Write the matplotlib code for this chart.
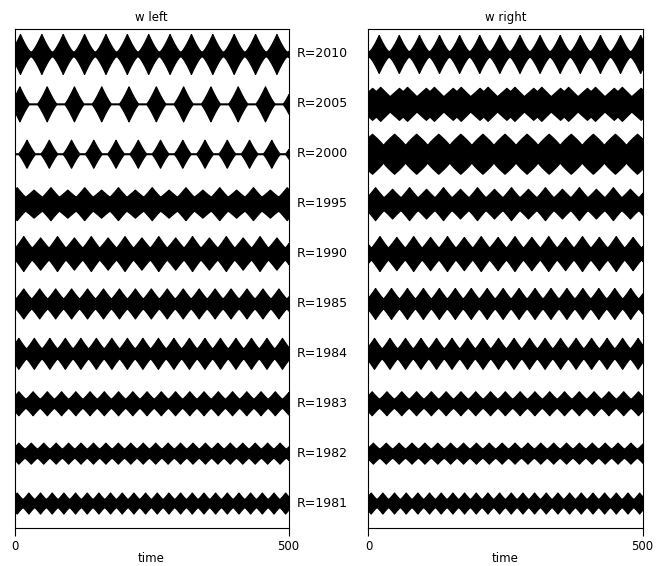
import numpy as np
import matplotlib.pyplot as plt

# runs, top to bottom
years = [2010, 2005, 2000, 1995, 1990, 1985, 1984, 1983, 1982, 1981]

# beat period and time of first beat maximum (time units)
left_period = [39.0, 49.8, 40.6, 30.8, 30.8, 29.1, 28.3, 26.0, 22.7, 21.3]
left_first = [10.0, 8.9, 22.0, 4.0, 16.0, 16.0, 7.0, 7.0, 7.0, 4.0]
# envelope half height at beat maximum and at the waist (row spacing = 1)
left_peak = [0.40, 0.35, 0.28, 0.33, 0.35, 0.30, 0.31, 0.24, 0.21, 0.21]
left_waist = [0.05, 0.008, 0.008, 0.14, 0.12, 0.10, 0.10, 0.09, 0.09, 0.08]
# height of every second beat relative to the first
left_alt = [1.0, 1.0, 1.0, 0.85, 0.92, 1.0, 1.0, 1.0, 1.0, 1.0]
# base width of a beat (fraction of the period) and flank curvature
left_width = [0.95, 0.7, 0.75, 1.0, 1.0, 1.0, 1.0, 1.0, 1.0, 1.0]
left_sharp = [1.3, 1.2, 1.2, 1.1, 1.1, 1.15, 1.15, 1.15, 1.15, 1.15]
left_double = [0.0] * 10

right_period = [36.7, 49.0, 40.3, 31.0, 30.8, 29.1, 28.3, 27.0, 23.5, 21.3]
right_first = [18.6, 14.0, 6.4, 12.0, 20.0, 12.0, 10.0, 5.8, 8.0, 4.0]
right_peak = [0.38, 0.34, 0.40, 0.33, 0.35, 0.31, 0.31, 0.24, 0.21, 0.21]
right_waist = [0.06, 0.14, 0.17, 0.13, 0.12, 0.10, 0.10, 0.09, 0.09, 0.08]
right_alt = [1.0, 1.0, 1.0, 0.9, 0.95, 1.0, 1.0, 1.0, 1.0, 1.0]
right_width = [0.95, 0.75, 1.0, 1.0, 1.0, 1.0, 1.0, 1.0, 1.0, 1.0]
right_sharp = [1.3, 1.0, 0.85, 1.1, 1.1, 1.15, 1.15, 1.15, 1.15, 1.15]
right_double = [0.0, 0.9, 0.0, 0.0, 0.0, 0.0, 0.0, 0.0, 0.0, 0.0]

titles = ['w left', 'w right']
t = np.linspace(0, 500, 6001)


def lobe(frac, w, p):
    return np.clip(1 - 2 * np.abs(frac) / w, 0, 1) ** p


def envelope(period, first, peak, waist, alt, w, p, double):
    phase = (t - first) / period
    k = np.round(phase)
    frac = phase - k
    height = np.where(k % 2 == 1, peak * alt, peak)
    if double > 0:
        shape = np.maximum(lobe(frac - 0.15, w, p), double * lobe(frac + 0.15, w, p))
    else:
        shape = lobe(frac, w, p)
    return waist + (height - waist) * shape


plt.rcParams['font.family'] = 'DejaVu Sans'
fig = plt.figure(figsize=(6.62, 5.66), dpi=100)
ax_l = fig.add_axes([14.5 / 662, 38 / 566, 274 / 662, 499 / 566])
ax_r = fig.add_axes([368.5 / 662, 38 / 566, 274 / 662, 499 / 566])

panels = [
    (ax_l, left_period, left_first, left_peak, left_waist, left_alt,
     left_width, left_sharp, left_double),
    (ax_r, right_period, right_first, right_peak, right_waist, right_alt,
     right_width, right_sharp, right_double),
]

for i, (ax, per, first, peak, waist, alt, width, sharp, double) in enumerate(panels):
    for j in range(len(years)):
        y0 = len(years) - 1 - j
        env = envelope(per[j], first[j], peak[j], waist[j], alt[j],
                       width[j], sharp[j], double[j])
        ax.fill_between(t, y0 - env, y0 + env, color='black', lw=0.9)
        if i == 0:
            ax.text(515, y0, 'R=%d' % years[j], ha='left', va='center',
                    fontsize=9, clip_on=False)
    ax.set_xlim(0, 500)
    ax.set_ylim(-0.5, len(years) - 0.5)
    ax.set_xticks([0, 500])
    ax.set_yticks([])
    ax.tick_params(axis='x', direction='out', length=6, width=0.8, pad=3, labelsize=8.5)
    ax.set_xlabel('time', fontsize=8.5, labelpad=-1)
    ax.set_title(titles[i], fontsize=8.5, pad=6)
    for s in ax.spines.values():
        s.set_linewidth(0.8)

plt.savefig('out.png', dpi=100)
